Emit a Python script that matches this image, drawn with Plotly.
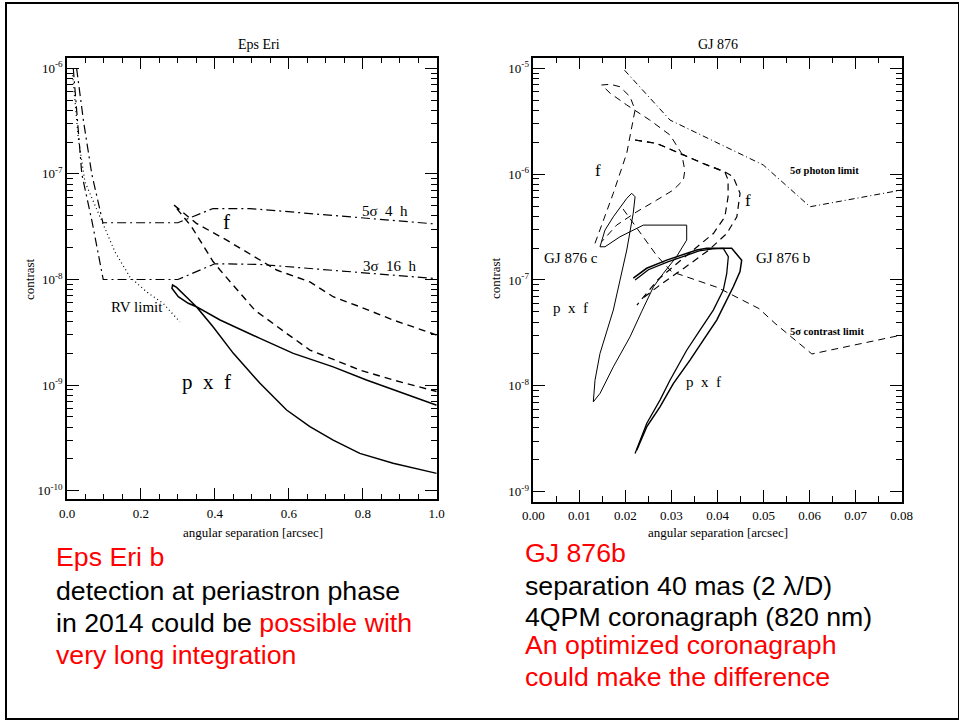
import numpy as np
import plotly.graph_objects as go

W, H = 959, 721

# ---------------- Eps Eri (left panel) data ----------------
eps_5sig_x = [0.026, 0.045, 0.067, 0.097, 0.30, 0.395, 0.495, 1.0]
eps_5sig_y = [1.0e-6, 3.1e-7, 1.0e-7, 3.45e-8, 3.45e-8, 4.7e-8, 4.7e-8, 3.35e-8]

eps_3sig_x = [0.017, 0.028, 0.040, 0.068, 0.098, 0.30, 0.40, 0.52, 1.0]
eps_3sig_y = [1.0e-6, 3.0e-7, 1.0e-7, 3.5e-8, 1.0e-8, 1.0e-8, 1.41e-8, 1.39e-8, 1.02e-8]

eps_rv_x = [0.0154, 0.0306, 0.0486, 0.0712, 0.0981, 0.1297, 0.170, 0.215, 0.260, 0.305]
eps_rv_y = [8.6e-7, 2.17e-7, 8.4e-8, 5.45e-8, 3.28e-8, 1.83e-8, 1.06e-8, 7.65e-9, 5.96e-9, 3.98e-9]

eps_f_x = [1.0, 0.882, 0.792, 0.72, 0.657, 0.567, 0.522, 0.431, 0.35, 0.289,
           0.337, 0.395, 0.414, 0.508, 0.594, 0.657, 0.792, 0.882, 1.0]
eps_f_y = [2.98e-9, 4.14e-9, 5.53e-9, 6.87e-9, 9.5e-9, 1.23e-8, 1.53e-8, 2.37e-8, 3.4e-8, 5.08e-8,
           3.16e-8, 1.48e-8, 1.23e-8, 5.13e-9, 3.09e-9, 2.15e-9, 1.39e-9, 1.12e-9, 8.7e-10]

eps_pf_x = [1.0, 0.81, 0.72, 0.612, 0.522, 0.414, 0.35, 0.319, 0.2964, 0.2856,
            0.2838, 0.301, 0.328, 0.35, 0.395, 0.45, 0.522, 0.594, 0.657, 0.72,
            0.792, 0.882, 1.0]
eps_pf_y = [6.46e-10, 1.12e-9, 1.49e-9, 2.0e-9, 2.77e-9, 4.14e-9, 5.53e-9, 7.13e-9, 8.43e-9, 8.87e-9,
            8.26e-9, 6.87e-9, 5.96e-9, 5.53e-9, 3.57e-9, 2.0e-9, 1.04e-9, 5.81e-10, 4.04e-10, 3.02e-10,
            2.26e-10, 1.82e-10, 1.46e-10]

# ---------------- GJ 876 (right panel) data ----------------
gj_photon_x = [0.0198, 0.0297, 0.04995, 0.0601, 0.08]
gj_photon_y = [9.6e-6, 3.24e-6, 1.22e-6, 4.92e-7, 7.08e-7]

gj_contrast_x = [0.0195, 0.0268, 0.0300, 0.0400, 0.0490, 0.0525, 0.0605, 0.08]
gj_contrast_y = [4.68e-7, 1.7e-7, 1.2e-7, 8.5e-8, 5.37e-8, 3.89e-8, 2.0e-8, 3.02e-8]

gj_fc_x = [0.0134, 0.01737, 0.0203, 0.0217, 0.0221, 0.021, 0.0188, 0.0167, 0.01485, 0.0167,
           0.0203, 0.0253, 0.0297, 0.0322, 0.0329, 0.0326, 0.0304, 0.0268, 0.0225, 0.0181, 0.01485]
gj_fc_y = [2.22e-7, 6.6e-7, 1.58e-6, 3.24e-6, 4.04e-6, 5.4e-6, 6.7e-6, 7.06e-6, 6.95e-6, 5.81e-6,
           4.5e-6, 3.24e-6, 2.34e-6, 1.57e-6, 1.09e-6, 8.8e-7, 7.08e-7, 5.69e-7, 4.42e-7, 3.3e-7, 2.3e-7]

gj_fb1_x = [0.0221, 0.0268, 0.0326, 0.0369, 0.0416, 0.0423, 0.0423, 0.0416, 0.0391, 0.0355, 0.031, 0.027, 0.0225]
gj_fb1_y = [2.1e-6, 1.95e-6, 1.52e-6, 1.26e-6, 1.05e-6, 8.8e-7, 6.12e-7, 3.95e-7, 2.75e-7, 2.06e-7, 1.41e-7, 1.0e-7, 5.8e-8]

gj_fb2_x = [0.0221, 0.0268, 0.0326, 0.0369, 0.0416, 0.0434, 0.0449, 0.0442, 0.042, 0.038, 0.033, 0.028, 0.0235]
gj_fb2_y = [2.1e-6, 1.95e-6, 1.52e-6, 1.26e-6, 1.05e-6, 9.44e-7, 6.59e-7, 3.95e-7, 2.75e-7, 1.9e-7, 1.32e-7, 9.3e-8, 6.6e-8]

gj_pfc_x = [0.0333, 0.0311, 0.0282, 0.0261, 0.0235, 0.0210, 0.01737, 0.01448, 0.01303, 0.0134,
            0.01448, 0.01737, 0.0203, 0.0217, 0.0221, 0.02137, 0.0203, 0.01737, 0.01557, 0.01448,
            0.01557, 0.01883, 0.02389, 0.03331, 0.03331]
gj_pfc_y = [2.38e-7, 1.66e-7, 1.15e-7, 8.63e-8, 5.0e-8, 2.9e-8, 1.51e-8, 8.47e-9, 7.06e-9, 1.13e-8,
            2.02e-8, 5.19e-8, 1.92e-7, 4.27e-7, 6.11e-7, 6.6e-7, 5.9e-7, 3.95e-7, 2.96e-7, 2.06e-7,
            2.06e-7, 2.56e-7, 3.3e-7, 3.3e-7, 2.38e-7]

gj_pb1_x = [0.02172, 0.02462, 0.02896, 0.03331, 0.03548, 0.03765, 0.04308, 0.04525, 0.04489, 0.04343,
            0.042, 0.03983, 0.03692, 0.03403, 0.0304, 0.02751, 0.02462, 0.02245]
gj_pb1_y = [1.04e-7, 1.29e-7, 1.54e-7, 1.78e-7, 1.92e-7, 1.99e-7, 1.99e-7, 1.54e-7, 1.2e-7, 8.63e-8,
            6.46e-8, 4.18e-8, 2.7e-8, 1.75e-8, 1.05e-8, 6.34e-9, 4.09e-9, 2.47e-9]

gj_pb2_x = [0.0221, 0.0250, 0.0292, 0.0335, 0.0360, 0.0390, 0.04126, 0.04235, 0.042, 0.04126,
            0.03909, 0.0362, 0.03331, 0.02968, 0.02751, 0.02462, 0.0221]
gj_pb2_y = [1.0e-7, 1.25e-7, 1.48e-7, 1.72e-7, 1.88e-7, 1.97e-7, 1.99e-7, 1.66e-7, 1.15e-7, 8.04e-8,
            5.19e-8, 3.36e-8, 2.17e-8, 1.13e-8, 7.33e-9, 4.41e-9, 2.3e-9]

# ticks
eps_xticks = [0.0, 0.2, 0.4, 0.6, 0.8, 1.0]
eps_xtick_text = ["0.0", "0.2", "0.4", "0.6", "0.8", "1.0"]
eps_xminor = [0.05, 0.1, 0.15, 0.25, 0.3, 0.35, 0.45, 0.5, 0.55, 0.65, 0.7, 0.75, 0.85, 0.9, 0.95]
eps_ydecades = [-10, -9, -8, -7, -6]

gj_xticks = [0.0, 0.01, 0.02, 0.03, 0.04, 0.05, 0.06, 0.07, 0.08]
gj_xtick_text = ["0.00", "0.01", "0.02", "0.03", "0.04", "0.05", "0.06", "0.07", "0.08"]
gj_xminor = [0.005, 0.015, 0.025, 0.035, 0.045, 0.055, 0.065, 0.075]
gj_ydecades = [-9, -8, -7, -6, -5]

SERIF = "Liberation Serif"
SANS = "Liberation Sans"

fig = go.Figure()


def add_line(x, y, dash, width, xa, ya):
    fig.add_trace(go.Scatter(x=x, y=y, mode="lines", xaxis=xa, yaxis=ya,
                             line=dict(color="black", width=width, dash=dash),
                             showlegend=False, hoverinfo="skip"))


DASHDOT = "9px,4px,2px,4px"
DASH = "7px,5px"
DOT = "1px,3px"

add_line(eps_5sig_x, eps_5sig_y, DASHDOT, 1.2, "x", "y")
add_line(eps_3sig_x, eps_3sig_y, DASHDOT, 1.2, "x", "y")
add_line(eps_rv_x, eps_rv_y, DOT, 1.2, "x", "y")
add_line(eps_f_x, eps_f_y, DASH, 1.4, "x", "y")
add_line(eps_pf_x, eps_pf_y, "solid", 1.5, "x", "y")

add_line(gj_photon_x, gj_photon_y, "6px,3px,1px,3px", 1.0, "x2", "y2")
add_line(gj_contrast_x, gj_contrast_y, "7px,5px", 1.0, "x2", "y2")
add_line(gj_fc_x, gj_fc_y, "7px,5px", 1.0, "x2", "y2")
add_line(gj_fb1_x, gj_fb1_y, "7px,5px", 1.2, "x2", "y2")
add_line(gj_fb2_x, gj_fb2_y, "7px,5px", 1.2, "x2", "y2")
add_line(gj_pfc_x, gj_pfc_y, "solid", 1.0, "x2", "y2")
add_line(gj_pb1_x, gj_pb1_y, "solid", 1.5, "x2", "y2")
add_line(gj_pb2_x, gj_pb2_y, "solid", 1.3, "x2", "y2")


def minor_log(decades):
    vals = []
    for d in decades[:-1]:
        for k in range(2, 10):
            vals.append(k * 10.0 ** d)
    return vals


def axis_common():
    return dict(showline=True, linecolor="black", linewidth=1.5, mirror="ticks",
                ticks="inside", ticklen=12, tickwidth=1.2, tickcolor="black",
                showgrid=False, zeroline=False, automargin=False,
                tickfont=dict(family=SERIF, size=13, color="black"))


fig.update_layout(
    width=W, height=H, margin=dict(l=0, r=0, t=0, b=0, pad=0, autoexpand=False),
    autosize=False,
    paper_bgcolor="white", plot_bgcolor="white",
    xaxis=dict(domain=[67 / W, 436.7 / W], range=[0, 1], anchor="y",
               tickmode="array", tickvals=eps_xticks, ticktext=eps_xtick_text,
               ticklabelstandoff=1,
               minor=dict(tickvals=eps_xminor, ticks="inside", ticklen=6, tickwidth=1, tickcolor="black"),
               **axis_common()),
    yaxis=dict(domain=[(H - 499.3) / H, (H - 57.7) / H], type="log", range=[-10.081, -5.8996], anchor="x",
               tickmode="array", tickvals=[10.0 ** d for d in eps_ydecades],
               ticktext=["10<sup>%d</sup>" % d for d in eps_ydecades],
               minor=dict(tickvals=minor_log(eps_ydecades), ticks="inside", ticklen=6, tickwidth=1, tickcolor="black"),
               **axis_common()),
    xaxis2=dict(domain=[533.3 / W, 901.7 / W], range=[0, 0.08], anchor="y2",
                tickmode="array", tickvals=gj_xticks, ticktext=gj_xtick_text,
                ticklabelstandoff=1,
                minor=dict(tickvals=gj_xminor, ticks="inside", ticklen=6, tickwidth=1, tickcolor="black"),
                **axis_common()),
    yaxis2=dict(domain=[(H - 501.7) / H, (H - 57.7) / H], type="log", range=[-9.0945, -4.9], anchor="x2",
                tickmode="array", tickvals=[10.0 ** d for d in gj_ydecades],
                ticktext=["10<sup>%d</sup>" % d for d in gj_ydecades],
                minor=dict(tickvals=minor_log(gj_ydecades), ticks="inside", ticklen=6, tickwidth=1, tickcolor="black"),
                **axis_common()),
)

ann = []


def label(text, x, y, size, xr="x", yr="y", bold=False):
    t = "<b>%s</b>" % text if bold else text
    ann.append(dict(text=t, x=x, y=np.log10(y), xref=xr, yref=yr, showarrow=False,
                    font=dict(family=SERIF, size=size, color="black"),
                    xanchor="center", yanchor="middle"))


label("f", 0.432, 10 ** -7.453, 21)
label("5σ  4  h", 0.861, 10 ** -7.351, 15)
label("3σ  16  h", 0.873, 10 ** -7.872, 15)
label("RV limit", 0.188, 10 ** -8.257, 15)
label("p&nbsp;&nbsp;x&nbsp;&nbsp;f", 0.377, 10 ** -8.97, 21)

label("f", 0.0141, 10 ** -5.961, 17, "x2", "y2")
label("f", 0.0467, 10 ** -6.245, 17, "x2", "y2")
label("GJ 876 c", 0.0081, 10 ** -6.796, 15, "x2", "y2")
label("GJ 876 b", 0.0543, 10 ** -6.796, 15, "x2", "y2")
label("p&nbsp;&nbsp;x&nbsp;&nbsp;f", 0.00797, 10 ** -7.268, 15, "x2", "y2")
label("p&nbsp;&nbsp;x&nbsp;&nbsp;f", 0.03692, 10 ** -7.962, 15, "x2", "y2")
label("5σ photon limit", 0.0633, 10 ** -5.968, 10.5, "x2", "y2", bold=True)
label("5σ contrast limit", 0.0637, 10 ** -7.49, 10.5, "x2", "y2", bold=True)


def paper_text(text, px, py, size, family, color="black", angle=0, xanchor="center"):
    ann.append(dict(text=text, x=px / W, y=1 - py / H, xref="paper", yref="paper", showarrow=False,
                    font=dict(family=family, size=size, color=color), textangle=angle,
                    xanchor=xanchor, yanchor="middle"))


paper_text("Eps Eri", 259, 45, 14, SERIF)
paper_text("GJ 876", 718, 45, 14, SERIF)
paper_text("angular separation [arcsec]", 253, 532, 13, SERIF)
paper_text("angular separation [arcsec]", 718, 532, 13, SERIF)
paper_text("contrast", 29, 279, 13, SERIF, angle=-90)
paper_text("contrast", 495, 278, 13, SERIF, angle=-90)

RED = "#ff0000"
FS = 26.7
paper_text("Eps Eri b", 54, 557, FS, SANS, RED, xanchor="left")
paper_text("detection at periastron phase", 54, 591, FS, SANS, xanchor="left")
paper_text("in 2014 could be <span style='color:#ff0000'>possible with</span>", 54, 623, FS, SANS, xanchor="left")
paper_text("very long integration", 54, 655, FS, SANS, RED, xanchor="left")

paper_text("GJ 876b", 523, 553, FS, SANS, RED, xanchor="left")
paper_text("separation 40 mas (2 λ/D)", 523, 586, FS, SANS, xanchor="left")
paper_text("4QPM coronagraph (820 nm)", 523, 617, FS, SANS, xanchor="left")
paper_text("An optimized coronagraph", 523, 645, FS, SANS, RED, xanchor="left")
paper_text("could make the difference", 523, 677, FS, SANS, RED, xanchor="left")

fig.update_layout(annotations=ann)

fig.add_shape(type="rect", xref="paper", yref="paper",
              x0=6 / W, x1=1.0, y0=1 - 719 / H, y1=1 - 3 / H,
              line=dict(color="black", width=2), fillcolor="rgba(0,0,0,0)", layer="above")

fig.write_html("out.html")
